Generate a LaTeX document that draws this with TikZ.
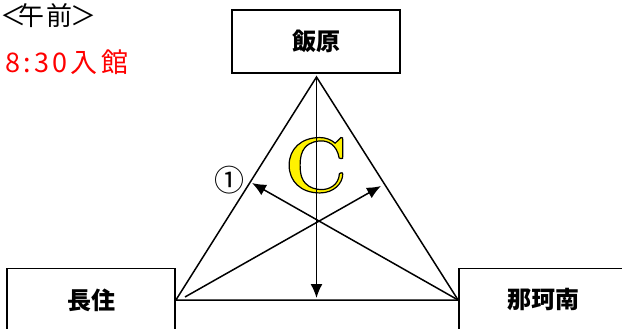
\documentclass[tikz,border=0pt]{standalone}
\usepackage{fontspec}
\newfontfamily\jpfont{Noto Sans CJK JP}
\usetikzlibrary{arrows.meta}

\tikzset{
  school/.style={draw, line width=1.8pt, minimum width=168pt, minimum height=63pt,
    font=\jpfont\bfseries\fontsize{24}{24}\selectfont},
  side/.style={line width=1.5pt},
  ray/.style={line width=1.5pt, -{Latex[length=14pt,width=12pt]}},
}

\begin{document}
\begin{tikzpicture}[x=1pt,y=-1pt]
  \useasboundingbox (0,0) rectangle (622,329);
  % heading
  \node [anchor=west, inner sep=0pt, font=\jpfont\fontsize{26}{26}\selectfont] (session) at (0,16)
    {＜\kern-7.5pt午\kern2pt前\kern-2.5pt＞};
  \node [anchor=west, red, font=\jpfont\fontsize{27}{27}\selectfont] (entry) at (2,62)
    {\addfontfeature{LetterSpace=12}8:30入館};
  % the three schools
  \node [school] (iihara) at (316,41.5) {飯原};
  \node [school] (nagazumi) at (91,300) {長住};
  \node [school] (nakaminami) at (543,300) {那珂南};
  \coordinate (apex) at (316.5,77);
  \coordinate (foot) at (316.5,298);
  \coordinate (startL) at (185,297);
  \coordinate (tipL) at (252,183);
  \coordinate (tipR) at (381,186);
  % group letter
  \node [anchor=base, text=yellow, font=\bfseries\fontsize{78}{78}\selectfont] (group) at (316,192)
    {\special{pdf:literal direct 2 Tr 1.2 w 0 0 0 RG}C\special{pdf:literal direct 0 Tr}};
  \node [font=\jpfont\fontsize{30}{30}\selectfont] (first) at (229,180) {①};
  % triangle and rays
  \draw [side] (apex) -- (nagazumi.east) -- (nakaminami.west) -- cycle;
  \draw [ray] (apex) -- (foot);
  \draw [ray] (startL) -- (tipR);
  \draw [ray] (nakaminami.west) -- (tipL);
\end{tikzpicture}
\end{document}
